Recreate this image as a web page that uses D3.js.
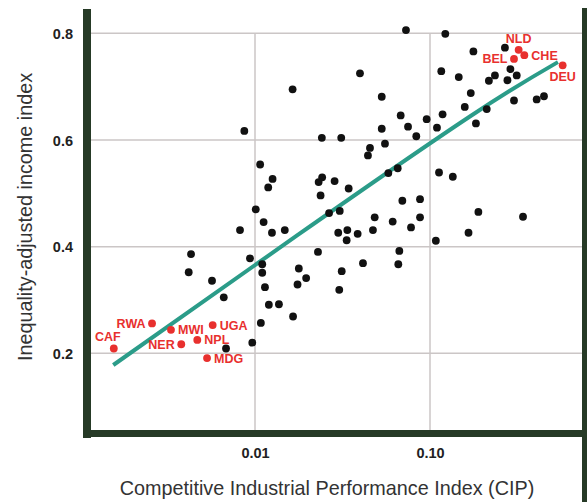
<!DOCTYPE html>
<html>
<head>
<meta charset="utf-8">
<script src="https://cdn.jsdelivr.net/npm/d3@7"></script>
<style>
	body { margin: 0; background: #fff; }
	svg text { font-family: "Liberation Sans", Arial, sans-serif; }
</style>
</head>
<body>
<div id="chart"></div>
<script>
// black dots: CIP (log) vs inequality-adjusted income index
const cipValues = [
	0.0164, 0.00869, 0.0107, 0.0126, 0.0119, 0.0101, 0.0112, 0.00821, 0.0125, 0.0148,
	0.0729, 0.1223, 0.177, 0.268, 0.288, 0.313, 0.277, 0.235, 0.217, 0.146,
	0.116, 0.0398, 0.171, 0.053, 0.302, 0.407, 0.448, 0.158, 0.211, 0.068,
	0.118, 0.0957, 0.183, 0.053, 0.0749, 0.1096, 0.0835, 0.0241, 0.0311, 0.0553,
	0.0454, 0.0442, 0.0654, 0.0578, 0.1126, 0.135, 0.0242, 0.0231, 0.0285, 0.0343,
	0.0237, 0.0695, 0.0877, 0.0265, 0.0305, 0.189, 0.34, 0.0483, 0.0612, 0.0877,
	0.0779, 0.0299, 0.0337, 0.0386, 0.0472, 0.0334, 0.166, 0.108, 0.0229, 0.0668,
	0.00431, 0.00418, 0.00568, 0.00663, 0.00936, 0.011, 0.011, 0.0114, 0.012, 0.0137,
	0.0165, 0.0175, 0.0178, 0.0108, 0.00965, 0.00683, 0.0196, 0.0313, 0.0303, 0.0414,
	0.0659
];
const incomeValues = [
	0.695, 0.617, 0.554, 0.527, 0.511, 0.470, 0.446, 0.431, 0.426, 0.431,
	0.806, 0.799, 0.766, 0.773, 0.733, 0.721, 0.712, 0.721, 0.711, 0.718,
	0.729, 0.725, 0.688, 0.681, 0.674, 0.676, 0.682, 0.662, 0.658, 0.646,
	0.648, 0.639, 0.631, 0.621, 0.625, 0.623, 0.607, 0.604, 0.604, 0.593,
	0.585, 0.571, 0.547, 0.538, 0.539, 0.531, 0.530, 0.521, 0.523, 0.509,
	0.496, 0.486, 0.489, 0.463, 0.467, 0.465, 0.456, 0.455, 0.447, 0.455,
	0.436, 0.426, 0.431, 0.424, 0.431, 0.412, 0.426, 0.411, 0.390, 0.392,
	0.386, 0.352, 0.336, 0.305, 0.378, 0.367, 0.351, 0.324, 0.291, 0.292,
	0.269, 0.329, 0.359, 0.257, 0.220, 0.209, 0.341, 0.354, 0.319, 0.369,
	0.367
];

// highlighted countries
const countryCodes = ["RWA", "MWI", "UGA", "CAF", "NER", "NPL", "MDG", "NLD", "CHE", "BEL", "DEU"];
const countryCip = [0.00258, 0.00331, 0.00573, 0.00156, 0.00379, 0.00468, 0.00532, 0.321, 0.346, 0.302, 0.573];
const countryIncome = [0.256, 0.244, 0.253, 0.209, 0.217, 0.225, 0.191, 0.769, 0.759, 0.752, 0.740];
const labelSide = ["left", "right", "right", "top", "left", "right", "right", "top", "right", "left", "bottom"];

// fitted curve
const fitCip = [0.00155, 0.0174, 0.169, 0.538];
const fitIncome = [0.178, 0.421, 0.644, 0.746];

const xTicks = [0.01, 0.1];
const xTickLabels = ["0.01", "0.10"];
const yTicks = [0.2, 0.4, 0.6, 0.8];

const width = 587;
const height = 502;
const plot = { left: 91, right: 582, top: 9, bottom: 430 };

const svg = d3.select("#chart").append("svg")
	.attr("width", width)
	.attr("height", height);

const x = d3.scaleLog()
	.domain([Math.pow(10, -2 - 164 / 175), Math.pow(10, -1 + 152 / 175)])
	.range([plot.left, plot.right]);

const y = d3.scaleLinear()
	.domain([0.2 - 76.7 / 533.3, 0.8 + 24.3 / 533.3])
	.range([plot.bottom, plot.top]);

// grid
svg.append("g")
	.selectAll("line")
	.data(yTicks)
	.join("line")
	.attr("x1", plot.left)
	.attr("x2", plot.right)
	.attr("y1", (d) => y(d))
	.attr("y2", (d) => y(d))
	.attr("stroke", "#cbc6c6")
	.attr("stroke-width", 1.5);

svg.append("g")
	.selectAll("line")
	.data(xTicks)
	.join("line")
	.attr("x1", (d) => x(d))
	.attr("x2", (d) => x(d))
	.attr("y1", y(0.8))
	.attr("y2", plot.bottom)
	.attr("stroke", "#cbc6c6")
	.attr("stroke-width", 1.5);

// axes (labels only)
const yAxis = svg.append("g")
	.attr("transform", `translate(${plot.left - 15},0)`)
	.call(d3.axisLeft(y).tickValues(yTicks).tickFormat(d3.format(".1f")).tickSize(0));
yAxis.select(".domain").remove();
yAxis.selectAll("text")
	.attr("font-size", 14.5)
	.attr("font-weight", "bold")
	.attr("fill", "#222")
	.attr("dy", "0.36em");

const xAxis = svg.append("g")
	.attr("transform", `translate(0,${plot.bottom + 15})`)
	.call(d3.axisBottom(x).tickValues(xTicks).tickFormat((d, i) => xTickLabels[i]).tickSize(0));
xAxis.select(".domain").remove();
xAxis.selectAll("text")
	.attr("font-size", 14.5)
	.attr("font-weight", "bold")
	.attr("fill", "#222")
	.attr("dy", "0.71em");

// fitted curve
const fitData = fitCip.map((c, i) => [c, fitIncome[i]]);
svg.append("path")
	.datum(fitData)
	.attr("fill", "none")
	.attr("stroke", "#2b9c89")
	.attr("stroke-width", 4)
	.attr("d", d3.line().x((d) => x(d[0])).y((d) => y(d[1])).curve(d3.curveNatural));

// black dots
svg.append("g")
	.selectAll("circle")
	.data(cipValues.map((c, i) => [c, incomeValues[i]]))
	.join("circle")
	.attr("cx", (d) => x(d[0]))
	.attr("cy", (d) => y(d[1]))
	.attr("r", 3.9)
	.attr("fill", "#111");

// red countries
const red = "#e8302e";
const countries = countryCodes.map((code, i) => ({
	code,
	cx: x(countryCip[i]),
	cy: y(countryIncome[i]),
	side: labelSide[i],
}));

svg.append("g")
	.selectAll("circle")
	.data(countries)
	.join("circle")
	.attr("cx", (d) => d.cx)
	.attr("cy", (d) => d.cy)
	.attr("r", 3.9)
	.attr("fill", red);

svg.append("g")
	.selectAll("text")
	.data(countries)
	.join("text")
	.attr("x", (d) => {
		if (d.side === "left") return d.cx - 6.5;
		if (d.side === "right") return d.cx + 7;
		if (d.side === "top" && d.code === "CAF") return d.cx - 6;
		return d.cx;
	})
	.attr("y", (d) => {
		if (d.side === "top") return d.cy - 7;
		if (d.side === "bottom") return d.cy + 16;
		return d.cy + 4.5;
	})
	.attr("text-anchor", (d) => (d.side === "left" ? "end" : d.side === "right" ? "start" : "middle"))
	.attr("font-size", 12.5)
	.attr("font-weight", "bold")
	.attr("fill", red)
	.text((d) => d.code);

// frame
const frame = "#263a26";
svg.append("rect").attr("x", 83).attr("y", 9).attr("width", 8).attr("height", 429).attr("fill", frame);
svg.append("rect").attr("x", 83).attr("y", plot.bottom).attr("width", plot.right - 83 + 6).attr("height", 7).attr("fill", frame);
svg.append("rect").attr("x", plot.right).attr("y", 8).attr("width", 6).attr("height", height - 8).attr("fill", frame);

// titles
svg.append("text")
	.attr("x", 327)
	.attr("y", 495)
	.attr("text-anchor", "middle")
	.attr("font-size", 19.8)
	.attr("fill", "#333")
	.text("Competitive Industrial Performance Index (CIP)");

svg.append("text")
	.attr("transform", "translate(32,217) rotate(-90)")
	.attr("text-anchor", "middle")
	.attr("font-size", 19.8)
	.attr("fill", "#333")
	.text("Inequality-adjusted income index");
</script>
</body>
</html>
